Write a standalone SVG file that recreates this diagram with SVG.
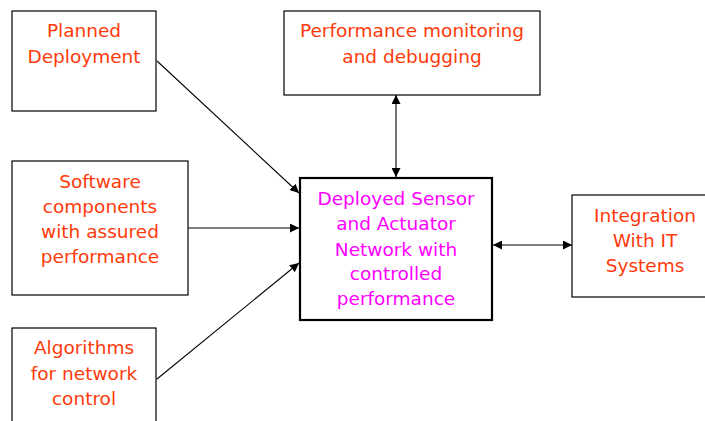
<svg xmlns="http://www.w3.org/2000/svg" width="705" height="421" viewBox="0 0 705 421">
  <style>
    .box { fill: #ffffff; stroke: #000000; stroke-width: 1.2; }
    .main { fill: #ffffff; stroke: #000000; stroke-width: 2.2; }
    .lbl { font-family: "DejaVu Sans", Verdana, sans-serif; font-size: 18.5px; text-anchor: middle; fill: #ff3a0a; }
    .mlbl { font-family: "DejaVu Sans", Verdana, sans-serif; font-size: 18.5px; text-anchor: middle; fill: #ff00ff; }
    .conn { stroke: #000000; stroke-width: 1.1; fill: none; }
  </style>
  <defs>
    <marker id="arrow" viewBox="0 0 10 10" refX="10" refY="5" markerWidth="9" markerHeight="9" markerUnits="userSpaceOnUse" orient="auto-start-reverse">
      <path d="M0,0 L10,5 L0,10 Z" fill="#000000"/>
    </marker>
  </defs>
  <rect width="705" height="421" fill="#ffffff"/>

  <g id="planned">
    <rect class="box" x="12" y="11" width="144" height="100"/>
    <text class="lbl" x="84" y="37">Planned</text>
    <text class="lbl" x="84" y="63">Deployment</text>
  </g>

  <g id="monitoring">
    <rect class="box" x="284" y="11" width="256" height="84"/>
    <text class="lbl" x="412" y="37">Performance monitoring</text>
    <text class="lbl" x="412" y="63">and debugging</text>
  </g>

  <g id="software">
    <rect class="box" x="12" y="161" width="176" height="134"/>
    <text class="lbl" x="100" y="188">Software</text>
    <text class="lbl" x="100" y="213">components</text>
    <text class="lbl" x="100" y="238">with assured</text>
    <text class="lbl" x="100" y="263">performance</text>
  </g>

  <g id="algorithms">
    <rect class="box" x="12" y="328" width="144" height="100"/>
    <text class="lbl" x="84" y="354">Algorithms</text>
    <text class="lbl" x="84" y="380">for network</text>
    <text class="lbl" x="84" y="405">control</text>
  </g>

  <g id="network">
    <rect class="main" x="300" y="178" width="192" height="142"/>
    <text class="mlbl" x="396" y="205">Deployed Sensor</text>
    <text class="mlbl" x="396" y="230">and Actuator</text>
    <text class="mlbl" x="396" y="256">Network with</text>
    <text class="mlbl" x="396" y="280">controlled</text>
    <text class="mlbl" x="396" y="305">performance</text>
  </g>

  <g id="integration">
    <rect class="box" x="572" y="195" width="134" height="102"/>
    <text class="lbl" x="645" y="222">Integration</text>
    <text class="lbl" x="645" y="247">With IT</text>
    <text class="lbl" x="645" y="272">Systems</text>
  </g>

  <g id="connectors">
    <line class="conn" x1="157" y1="61" x2="299" y2="193" marker-end="url(#arrow)"/>
    <line class="conn" x1="188" y1="228" x2="299" y2="228" marker-end="url(#arrow)"/>
    <line class="conn" x1="157" y1="379" x2="299" y2="263" marker-end="url(#arrow)"/>
    <line class="conn" x1="396" y1="95" x2="396" y2="177" marker-start="url(#arrow)" marker-end="url(#arrow)"/>
    <line class="conn" x1="493" y1="245" x2="572" y2="245" marker-start="url(#arrow)" marker-end="url(#arrow)"/>
  </g>
</svg>
